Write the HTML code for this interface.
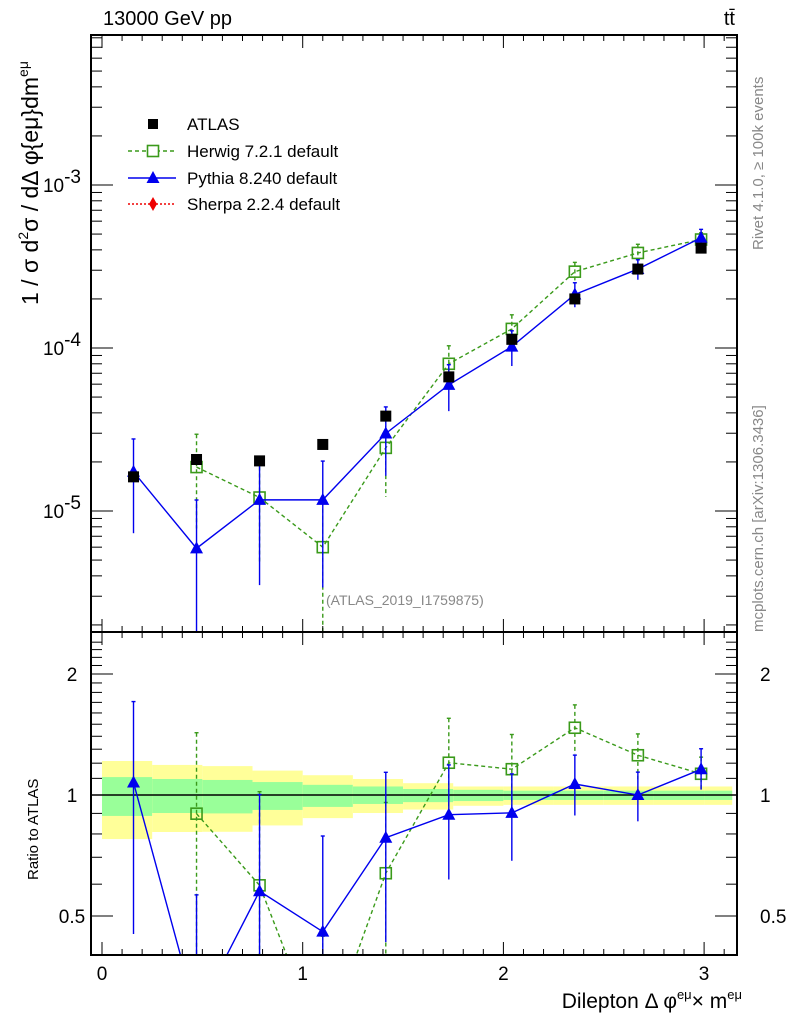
<!DOCTYPE html>
<html><head><meta charset="utf-8"><style>
html,body{margin:0;background:#fff;width:786px;height:1024px;overflow:hidden;}
svg{display:block;font-family:"Liberation Sans",sans-serif;}
</style></head><body>
<svg id="c" width="786" height="1024" viewBox="0 0 786 1024">
<text x="103" y="25" font-size="20">13000 GeV pp</text>
<text x="735" y="25" font-size="20" text-anchor="end">tt̄</text>
<g transform="translate(763,35) rotate(-90)"><text x="-215" y="0" font-size="15" fill="#888">Rivet 4.1.0, ≥ 100k events</text></g>
<g transform="translate(763,632) rotate(-90)"><text x="0" y="0" font-size="15" fill="#888">mcplots.cern.ch [arXiv:1306.3436]</text></g>
<text x="326" y="605" font-size="14" fill="#888">(ATLAS_2019_I1759875)</text>
<g transform="translate(38,305) rotate(-90)"><text x="0" y="0" font-size="23">1 / σ  d<tspan font-size="14" dy="-10">2</tspan><tspan dy="10">σ / dΔ φ{eμ}dm</tspan><tspan font-size="14" dy="-10">eμ</tspan></text></g>
<g transform="translate(38,880) rotate(-90)"><text x="0" y="0" font-size="15">Ratio to ATLAS</text></g>
<text x="742" y="1008" font-size="21" text-anchor="end">Dilepton Δ φ<tspan font-size="13" dy="-9">eμ</tspan><tspan dy="9">× m</tspan><tspan font-size="13" dy="-9">eμ</tspan></text>
<g id="g" ></g>
</svg>
<script>
const centers=[0.157,0.471,0.785,1.1,1.414,1.728,2.042,2.356,2.67,2.985];
const atlas=[1.62e-5,2.07e-5,2.03e-5,2.56e-5,3.82e-5,6.65e-5,1.13e-4,2.0e-4,3.05e-4,4.1e-4];
const herwig=[null,1.86e-5,1.21e-5,6.0e-6,2.44e-5,8.0e-5,1.31e-4,2.94e-4,3.83e-4,4.63e-4];
const herwigUp=[0,0.59,0.71,0.9,0.5,0.29,0.22,0.14,0.13,0.1];
const herwigDn=[0,0.58,0.6,0.8,0.5,0.28,0.2,0.14,0.13,0.1];
const pythia=[1.74e-5,5.9e-6,1.17e-5,1.17e-5,2.99e-5,5.94e-5,1.02e-4,2.13e-4,3.05e-4,4.75e-4];
const pythiaUp=[0.59,0.98,0.74,0.73,0.455,0.33,0.25,0.18,0.14,0.125];
const pythiaDn=[0.58,1.0,0.70,0.71,0.45,0.31,0.24,0.165,0.14,0.11];
const bandEdges=[0,0.25,0.5,0.75,1,1.25,1.5,1.75,2,2.25,2.5,2.75,3.0,3.14];
const yelHi=[1.215,1.188,1.18,1.15,1.12,1.096,1.07,1.05,1.05,1.05,1.05,1.05,1.05];
const yelLo=[0.777,0.809,0.81,0.84,0.876,0.902,0.92,0.94,0.945,0.945,0.945,0.945,0.945];
const grnHi=[1.108,1.096,1.09,1.077,1.06,1.05,1.035,1.03,1.025,1.025,1.025,1.025,1.025];
const grnLo=[0.887,0.902,0.90,0.918,0.934,0.95,0.96,0.966,0.972,0.972,0.972,0.972,0.972];
const xTicks=[0,1,2,3];
const yMainTicks=[-3,-4,-5];
const yRatioTicks=[2,1,0.5];

const NS="http://www.w3.org/2000/svg";
const g=document.getElementById('g');
const L=91,R=737,T=35,MB=632,RB=955;
const X=v=>102+v*200.7;
const Y=v=>185+(-3-Math.log10(v))*163;
const YR=v=>795-Math.log2(v)*121;
function el(t,a,p){const e=document.createElementNS(NS,t);for(const k in a)e.setAttribute(k,a[k]);(p||g).appendChild(e);return e;}
function clip(id,y0,y1){const c=el('clipPath',{id:id});el('rect',{x:L,y:y0,width:R-L,height:y1-y0},c);}
clip('cm',T,MB);clip('cr',MB,RB);
const gm=el('g',{'clip-path':'url(#cm)'});

const gr=el('g',{'clip-path':'url(#cr)'});


for(let i=0;i<yelHi.length;i++){
  const x0=X(bandEdges[i]),x1=X(bandEdges[i+1]);
  const y=el('rect',{x:x0,y:YR(yelHi[i]),width:x1-x0,height:YR(yelLo[i])-YR(yelHi[i]),fill:'#ffff99'},gr);
  
  const gg=el('rect',{x:x0,y:YR(grnHi[i]),width:x1-x0,height:YR(grnLo[i])-YR(grnHi[i]),fill:'#99ff99'},gr);
  
}
const ref=el('line',{x1:L,x2:R,y1:YR(1),y2:YR(1),stroke:'#000','stroke-width':1.5},gr);


function tri(x,y,c,p){return el('polygon',{points:`${x},${y-7} ${x-6.5},${y+5} ${x+6.5},${y+5}`,fill:c},p);}
function sq(x,y,c,p){return el('rect',{x:x-5.5,y:y-5.5,width:11,height:11,fill:'none',stroke:c,'stroke-width':1.6},p);}

function series(vals,up,dn,color,dash,marker,name){
  let pts=[],rpts=[];
  vals.forEach((v,i)=>{if(v==null)return;pts.push([X(centers[i]),Y(v)]);rpts.push([X(centers[i]),YR(v/atlas[i])]);});
  [[gm,pts,Y,false],[gr,rpts,YR,true]].forEach(([p,ps,yf,isR])=>{
    const pl=el('polyline',{points:ps.map(q=>q.join(',')).join(' '),fill:'none',stroke:color,'stroke-width':1.4,'stroke-dasharray':dash},p);
    
    vals.forEach((v,i)=>{if(v==null)return;
      const val=isR?v/atlas[i]:v;const x=X(centers[i]);
      const hi=val*(1+up[i]);const lo=Math.max(val*(1-dn[i]),1e-9);
      const e=el('line',{x1:x,x2:x,y1:yf(hi),y2:Math.min(yf(lo),2000),stroke:color,'stroke-width':1.4,'stroke-dasharray':dash},p);
      
      el('line',{x1:x-2,x2:x+2,y1:yf(hi),y2:yf(hi),stroke:color,'stroke-width':1.4},p);
      const m=marker(x,yf(val),color,p);
      
    });
  });
}
series(herwig,herwigUp,herwigDn,'#3a9a1a','4,3',sq,'herwig');
series(pythia,pythiaUp,pythiaDn,'#0000ee','',tri,'pythia');
atlas.forEach((v,i)=>{const r=el('rect',{x:X(centers[i])-5.5,y:Y(v)-5.5,width:11,height:11,fill:'#000'},gm);
  });

[[T,MB],[MB,RB]].forEach(([a,b],k)=>{const f=el('rect',{x:L,y:a,width:R-L,height:b-a,fill:'none',stroke:'#000','stroke-width':2});
  });
for(let i=0;i<=31;i++){const v=i/10;const x=X(v);const maj=i%10==0;const len=maj?13:6;
  [T,MB,RB].forEach(y=>{ if(y!==T) el('line',{x1:x,x2:x,y1:y,y2:y-len,stroke:'#000','stroke-width':1});
    if(y!==RB) el('line',{x1:x,x2:x,y1:y,y2:y+len,stroke:'#000','stroke-width':1});});}
xTicks.forEach(v=>{const t=el('text',{x:X(v),y:980,'font-size':19,'text-anchor':'middle'});t.textContent=v;
  });
for(let d=-6;d<=-2;d++)for(let m=1;m<10;m++){const v=m*Math.pow(10,d);const y=Y(v);if(y<T||y>MB)continue;
  const len=m==1?22:11;el('line',{x1:L,x2:L+len,y1:y,y2:y,stroke:'#000'});el('line',{x1:R,x2:R-len,y1:y,y2:y,stroke:'#000'});}
yMainTicks.forEach(d=>{const t=el('text',{x:62,y:Y(Math.pow(10,d))+7,'font-size':19,'text-anchor':'middle'});
  t.innerHTML=`10<tspan font-size="13" dy="-9">${d}</tspan>`.replace('-','−');
  });
for(let v=0.4;v<=2.5;v+=0.1){const y=YR(v);if(y<MB||y>RB)continue;const maj=[0.5,1,2].some(q=>Math.abs(q-v)<1e-6);
  const len=maj?22:11;el('line',{x1:L,x2:L+len,y1:y,y2:y,stroke:'#000'});el('line',{x1:R,x2:R-len,y1:y,y2:y,stroke:'#000'});}
yRatioTicks.forEach(v=>{[72,760].forEach((x,k)=>{const t=el('text',{x:x,y:YR(v)+7,'font-size':19,'text-anchor':k?'start':'middle'});t.textContent=v;
  });});
const leg=el('g',{});
const ly=[124,151,178,204],lab=['ATLAS','Herwig 7.2.1 default','Pythia 8.240 default','Sherpa 2.2.4 default'];
ly.forEach((y,i)=>{const t=el('text',{x:187,y:y+6,'font-size':17},leg);t.textContent=lab[i];
  });
el('rect',{x:148,y:ly[0]-5,width:10,height:10,fill:'#000'},leg);
el('line',{x1:128,x2:176,y1:ly[1],y2:ly[1],stroke:'#3a9a1a','stroke-width':1.4,'stroke-dasharray':'4,3'},leg);sq(153,ly[1],'#3a9a1a',leg).setAttribute('fill','#fff');
el('line',{x1:128,x2:176,y1:ly[2],y2:ly[2],stroke:'#0000ee','stroke-width':1.4},leg);tri(153,ly[2],'#0000ee',leg);
el('line',{x1:128,x2:176,y1:ly[3],y2:ly[3],stroke:'#ee0000','stroke-width':1.4,'stroke-dasharray':'2,2'},leg);
el('polygon',{points:`153,${ly[3]-7} 157,${ly[3]} 153,${ly[3]+7} 149,${ly[3]}`,fill:'#ee0000'},leg);
</script>
</body></html>
